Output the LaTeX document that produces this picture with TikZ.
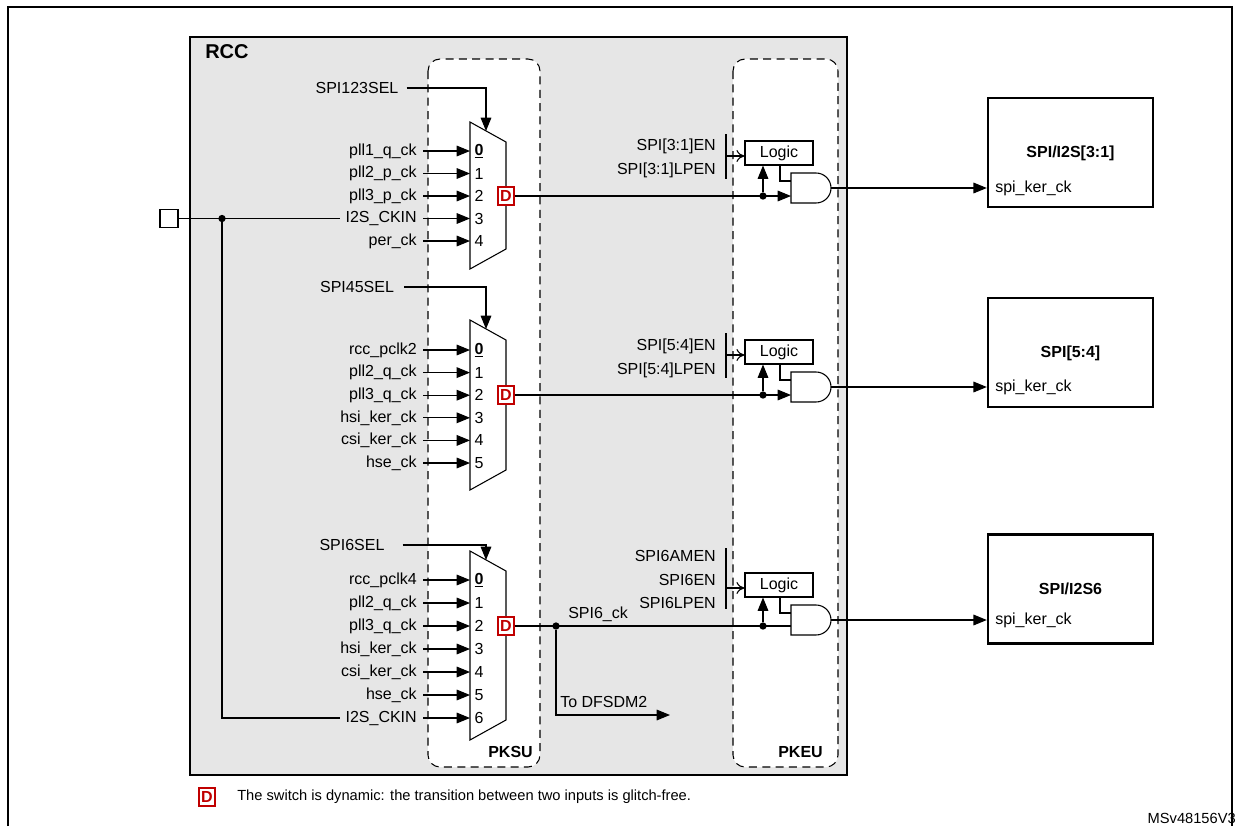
\documentclass[tikz,border=0pt]{standalone}
\usepackage{fontspec}
\setmainfont{Liberation Sans}
\usetikzlibrary{arrows.meta,positioning}
\definecolor{rccgray}{HTML}{E6E6E6}
\definecolor{dred}{HTML}{C00000}

\begin{document}
\begin{tikzpicture}[
  x=0.75pt, y=-0.75pt, line cap=butt, line join=miter,
  every node/.style={font=\fontsize{12}{14}\selectfont, inner sep=0pt},
  wire/.style ={line width=0.8pt},
  sig/.style  ={wire, -{Triangle[length=10pt,width=8pt]}},
  frame/.style={line width=1.8pt},
  unit/.style ={wire, dashed, dash pattern=on 6pt off 4pt, rounded corners=9pt, fill=white},
  dsw/.style  ={draw=dred, line width=0.8pt, fill=white, text=dred, font=\fontsize{12}{14}\selectfont\bfseries,
                minimum width=12pt, minimum height=13.5pt},
  logic/.style={draw, line width=0.8pt, fill=white, minimum width=51pt, minimum height=18pt},
  dev/.style  ={draw, frame, fill=white, minimum width=123.75pt, minimum height=81.75pt},
  dot/.style  ={circle, fill, minimum size=5.5pt}
]
\useasboundingbox (0,0) rectangle (1240,826);

% --- outer frame and RCC block
\draw[wire, line width=1.5pt] (8,826) -- (8,7) -- (1232,7) -- (1232,826);
\draw[frame, fill=rccgray] (190,37) rectangle (847,775);
\node[font=\fontsize{15}{17}\selectfont\bfseries, anchor=north west] (rcc) at (205,44) {RCC};

% --- PKSU / PKEU units
\draw[unit] (428,59) rectangle (540,767);
\draw[unit] (733,59) rectangle (838,767);
\node[font=\fontsize{12}{14}\selectfont\bfseries, anchor=south east] (pksu) at (533,758) {PKSU};
\node[font=\fontsize{12}{14}\selectfont\bfseries, anchor=south east] (pkeu) at (823,758) {PKEU};

% --- mux 1
\def\mxl{470} \def\mxr{506}
\draw[wire, fill=white] (\mxl,122) -- (\mxr,142) -- (\mxr,249) -- (\mxl,269) -- cycle;
\foreach \lab [count=\i from 0] in {pll1\_q\_ck,pll2\_p\_ck,pll3\_p\_ck,I2S\_CKIN,per\_ck}{
  \pgfmathsetmacro{\yy}{151+22.5*\i}
  \node[anchor=east] (ma\i) at (417,\yy) {\lab};
  \coordinate (mas\i) at (423,\yy);
  \coordinate (mae\i) at (\mxl,\yy);
  \draw[sig] (mas\i) -- (mae\i);
  \ifnum\i=0
    \node (mna\i) at (479,\yy) {\bfseries\underline{\i}};
  \else
    \node (mna\i) at (479,\yy) {\i};
  \fi
}
\node (sel1) at (357,88) {SPI123SEL};
\coordinate (sel1e) at (486,131);
\draw[sig] (sel1.east) ++(8,0) -| (sel1e);
\node[dsw] (d1) at (\mxr,196) {D};

% --- mux 2
\draw[wire, fill=white] (\mxl,320) -- (\mxr,340) -- (\mxr,470) -- (\mxl,490) -- cycle;
\foreach \lab [count=\i from 0] in {rcc\_pclk2,pll2\_q\_ck,pll3\_q\_ck,hsi\_ker\_ck,csi\_ker\_ck,hse\_ck}{
  \pgfmathsetmacro{\yy}{350+22.6*\i}
  \node[anchor=east] (mb\i) at (417,\yy) {\lab};
  \coordinate (mbs\i) at (423,\yy);
  \coordinate (mbe\i) at (\mxl,\yy);
  \draw[sig] (mbs\i) -- (mbe\i);
  \ifnum\i=0
    \node (mnb\i) at (479,\yy) {\bfseries\underline{\i}};
  \else
    \node (mnb\i) at (479,\yy) {\i};
  \fi
}
\node (sel2) at (357,287) {SPI45SEL};
\coordinate (sel2e) at (486,329);
\draw[sig] (sel2.east) ++(10,0) -| (sel2e);
\node[dsw] (d2) at (\mxr,395) {D};

% --- mux 3
\draw[wire, fill=white] (\mxl,551) -- (\mxr,571) -- (\mxr,720) -- (\mxl,740) -- cycle;
\foreach \lab [count=\i from 0] in {rcc\_pclk4,pll2\_q\_ck,pll3\_q\_ck,hsi\_ker\_ck,csi\_ker\_ck,hse\_ck,I2S\_CKIN}{
  \pgfmathsetmacro{\yy}{580+23*\i}
  \node[anchor=east] (mc\i) at (417,\yy) {\lab};
  \coordinate (mcs\i) at (423,\yy);
  \coordinate (mce\i) at (\mxl,\yy);
  \draw[sig] (mcs\i) -- (mce\i);
  \ifnum\i=0
    \node (mnc\i) at (479,\yy) {\bfseries\underline{\i}};
  \else
    \node (mnc\i) at (479,\yy) {\i};
  \fi
}
\node (sel3) at (352,545) {SPI6SEL};
\coordinate (sel3e) at (486,560);
\draw[sig] (sel3.east) ++(18,0) -| (sel3e);
\node[dsw] (d3) at (\mxr,626) {D};

% --- I2S_CKIN pin
\node[draw, wire, fill=white, minimum size=13.5pt] (pin) at (169,218.5) {};
\node[dot] (pdot) at (222,218.5) {};
\draw[wire] (pin.east) -- ([xshift=-4]ma3.west);
\draw[wire] (pdot) |- ([xshift=-4]mc6.west);

% --- gating: logic + AND gates
\foreach \n/\row/\gc in {1/196/188, 2/395/387, 3/626/620}{
  \node[logic] (lg\n) at (779,\gc-35) {Logic};
  \draw[wire, fill=white] (791,\gc-15) -- (816,\gc-15) arc[start angle=-90, end angle=90, radius=15] -- (791,\gc+15) -- cycle;
  \coordinate (and\n) at (831,\gc);
  \coordinate (ain\n) at (791,\row);
  \node[dot] (cdot\n) at (763,\row) {};
  \draw[sig] (cdot\n) -- (cdot\n |- lg\n.south);
  \draw[wire] (lg\n.south -| 780,0) |- (791,\gc-7);
  \draw[wire, -{To[length=6pt,width=9pt]}] (726,\gc-32) -- (lg\n.west |- 0,\gc-32);
}
\draw[sig] (d1.east) -- (ain1);
\draw[sig] (d2.east) -- (ain2);
\node[dot] (s6dot) at (556,626) {};
\draw[wire] (d3.east) -- (ain3);

% enable inputs
\draw[wire] (726,134) -- (726,179);
\node[anchor=east] (en1) at (716,146) {SPI[3:1]EN};
\node[anchor=east] (lp1) at (716,170) {SPI[3:1]LPEN};
\draw[wire] (726,333) -- (726,378);
\node[anchor=east] (en2) at (716,346) {SPI[5:4]EN};
\node[anchor=east] (lp2) at (716,370) {SPI[5:4]LPEN};
\draw[wire] (726,548) -- (726,609);
\node[anchor=east] (am3) at (716,556) {SPI6AMEN};
\node[anchor=east] (en3) at (716,580) {SPI6EN};
\node[anchor=east] (lp3) at (716,603) {SPI6LPEN};

% SPI6_ck to DFSDM2
\node[anchor=south west] (s6ck) at (568,622) {SPI6\_ck};
\coordinate (dfs) at (670,715);
\draw[sig] (s6dot) |- (dfs);
\node[anchor=south west] (tdfs) at (560,708) {To DFSDM2};

% --- peripherals
\node[dev] (spi1) at (1070.5,152.5) {};
\node[dev] (spi2) at (1070.5,352.5) {};
\node[dev] (spi3) at (1070.5,589) {};
\node[font=\fontsize{12}{14}\selectfont\bfseries] (t1) at (1070.5,153) {SPI/I2S[3:1]};
\node[font=\fontsize{12}{14}\selectfont\bfseries] (t2) at (1070.5,353) {SPI[5:4]};
\node[font=\fontsize{12}{14}\selectfont\bfseries] (t3) at (1070.5,589) {SPI/I2S6};
\foreach \n/\gc in {1/188, 2/387, 3/620}{
  \node[anchor=west] (k\n) at (995,\gc) {spi\_ker\_ck};
  \draw[sig] (and\n) -- (spi\n.west |- and\n);
}

% --- legend
\node[dsw] (dleg) at (207,797) {D};
\node[anchor=west, font=\fontsize{11}{13}\selectfont] (leg) at (237,797) {The switch is dynamic: the transition between two inputs is glitch-free.};
\node[anchor=east, font=\fontsize{11}{13}\selectfont] (ref) at (1236,818) {MSv48156V3};
\end{tikzpicture}
\end{document}
